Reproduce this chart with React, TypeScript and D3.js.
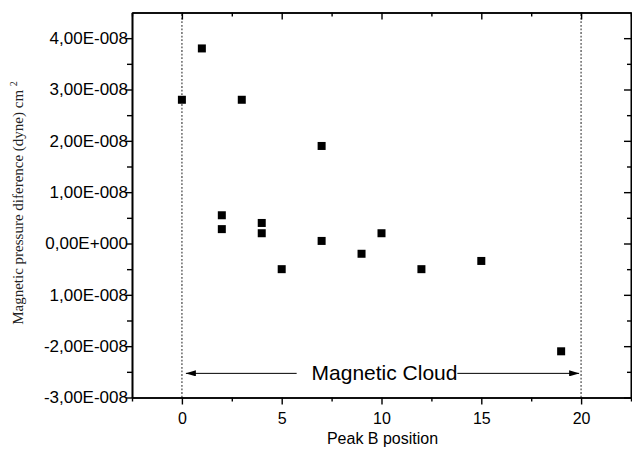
import React, { useEffect, useRef } from "react";
import * as d3 from "d3";

// peak B position vs magnetic pressure difference
const peakPos = [0, 1, 2, 2, 3, 4, 4, 5, 7, 7, 9, 10, 12, 15, 19];
const pressureDiff = [
  2.8e-8, 3.8e-8, 0.55e-8, 0.28e-8, 2.8e-8, 0.4e-8, 0.2e-8, -0.5e-8,
  1.9e-8, 0.05e-8, -0.2e-8, 0.2e-8, -0.5e-8, -0.34e-8, -2.1e-8,
];

const xTicks = [0, 5, 10, 15, 20];
const xMinor = [-2.5, 2.5, 7.5, 12.5, 17.5, 22.5];
const yTicks = [-3e-8, -2e-8, -1e-8, 0, 1e-8, 2e-8, 3e-8, 4e-8];
const yTickLabels = [
  "-3,00E-008", "-2,00E-008", "1,00E-008", "0,00E+000",
  "1,00E-008", "2,00E-008", "3,00E-008", "4,00E-008",
];
const yMinor = [-2.5e-8, -1.5e-8, -0.5e-8, 0.5e-8, 1.5e-8, 2.5e-8, 3.5e-8];

const cloudBounds = [0, 20];
const cloudArrowY = -2.53e-8;
const cloudLabel = "Magnetic Cloud";

const W = 632, H = 455;
const margin = { top: 12.5, right: 1, bottom: 57.5, left: 132 };

const App = () => {
  const ref = useRef<SVGSVGElement>(null);

  useEffect(() => {
    const svg = d3.select(ref.current);
    svg.selectAll("*").remove();

    const x = d3.scaleLinear().domain([-2.5, 22.5]).range([margin.left, W - margin.right]);
    const y = d3.scaleLinear().domain([-3e-8, 4.5e-8]).range([H - margin.bottom, margin.top]);
    const font = "Arial, 'Liberation Sans', sans-serif";

    // dotted cloud boundaries
    svg.selectAll("line.bound")
      .data(cloudBounds)
      .enter().append("line")
      .attr("x1", d => x(d)).attr("x2", d => x(d))
      .attr("y1", y.range()[0]).attr("y2", y.range()[1])
      .attr("stroke", "#808080").attr("stroke-width", 1.8)
      .attr("stroke-dasharray", "1.8,1.8");

    // bottom axis
    const bottom = svg.append("g").attr("transform", `translate(0,${y.range()[0]})`);
    bottom.call(d3.axisBottom(x).tickValues(xTicks).tickSize(7).tickSizeOuter(0).tickFormat(d3.format("d")));
    bottom.append("g").call(d3.axisBottom(x).tickValues(xMinor).tickSize(4).tickSizeOuter(0).tickFormat(() => ""));

    // top axis (inward ticks)
    const top = svg.append("g").attr("transform", `translate(0,${y.range()[1]})`);
    top.call(d3.axisTop(x).tickValues(xTicks).tickSize(-7).tickSizeOuter(0).tickFormat(() => ""));
    top.append("g").call(d3.axisTop(x).tickValues(xMinor).tickSize(-4).tickSizeOuter(0).tickFormat(() => ""));

    // left axis
    const left = svg.append("g").attr("transform", `translate(${x.range()[0]},0)`);
    left.call(d3.axisLeft(y).tickValues(yTicks).tickSize(6).tickPadding(-2).tickSizeOuter(0)
      .tickFormat((d, i) => yTickLabels[i]));
    left.append("g").call(d3.axisLeft(y).tickValues(yMinor).tickSize(5).tickSizeOuter(0).tickFormat(() => ""));

    // right axis (inward ticks)
    const right = svg.append("g").attr("transform", `translate(${x.range()[1]},0)`);
    right.call(d3.axisRight(y).tickValues(yTicks).tickSize(-7).tickSizeOuter(0).tickFormat(() => ""));
    right.append("g").call(d3.axisRight(y).tickValues(yMinor).tickSize(-4).tickSizeOuter(0).tickFormat(() => ""));

    svg.selectAll(".domain").attr("stroke", "#000").attr("stroke-width", 1.6);
    svg.selectAll(".tick line").attr("stroke", "#000").attr("stroke-width", 1.4);
    bottom.selectAll("text").style("font-family", font).style("font-size", "16px").attr("fill", "#000").attr("dy", "1.05em");
    left.selectAll("text").style("font-family", font).style("font-size", "17px").attr("fill", "#000");

    // points
    svg.selectAll("rect.pt")
      .data(peakPos)
      .enter().append("rect")
      .attr("x", d => x(d) - 4)
      .attr("y", (d, i) => y(pressureDiff[i]) - 4)
      .attr("width", 8).attr("height", 8)
      .attr("fill", "#000");

    // magnetic cloud arrows
    const defs = svg.append("defs");
    defs.append("marker")
      .attr("id", "ah").attr("viewBox", "0 0 10 6")
      .attr("refX", 10).attr("refY", 3)
      .attr("markerWidth", 10).attr("markerHeight", 6)
      .attr("markerUnits", "userSpaceOnUse")
      .attr("orient", "auto")
      .append("path").attr("d", "M0,0L10,3L0,6Z").attr("fill", "#000");

    const ay = y(cloudArrowY);
    svg.append("line")
      .attr("x1", x(5.75)).attr("x2", x(cloudBounds[0] + 0.2))
      .attr("y1", ay).attr("y2", ay)
      .attr("stroke", "#000").attr("stroke-width", 1)
      .attr("marker-end", "url(#ah)");
    svg.append("line")
      .attr("x1", x(13.8)).attr("x2", x(cloudBounds[1] - 0.1))
      .attr("y1", ay).attr("y2", ay)
      .attr("stroke", "#000").attr("stroke-width", 1)
      .attr("marker-end", "url(#ah)");
    svg.append("text")
      .attr("x", x(10.15)).attr("y", ay + 7)
      .attr("text-anchor", "middle")
      .style("font-family", font).style("font-size", "21px")
      .text(cloudLabel);

    // axis titles
    svg.append("text")
      .attr("x", (x.range()[0] + x.range()[1]) / 2 + 1).attr("y", 444)
      .attr("text-anchor", "middle")
      .style("font-family", font).style("font-size", "16px")
      .text("Peak B position");

    const yt = svg.append("text")
      .attr("transform", `translate(23,${(y.range()[0] + y.range()[1]) / 2 - 2}) rotate(-90)`)
      .attr("text-anchor", "middle")
      .style("font-family", "'Times New Roman', 'Liberation Serif', serif").style("font-size", "15px")
      .attr("fill", "#222");
    yt.append("tspan").text("Magnetic pressure diference (dyne) cm ");
    yt.append("tspan").attr("dy", -6).style("font-size", "10px").text("2");
  }, []);

  return (
    <svg ref={ref} width={W} height={H}
      style={{ position: "absolute", left: 0, top: 0, background: "#fff" }} />
  );
};

export default App;
